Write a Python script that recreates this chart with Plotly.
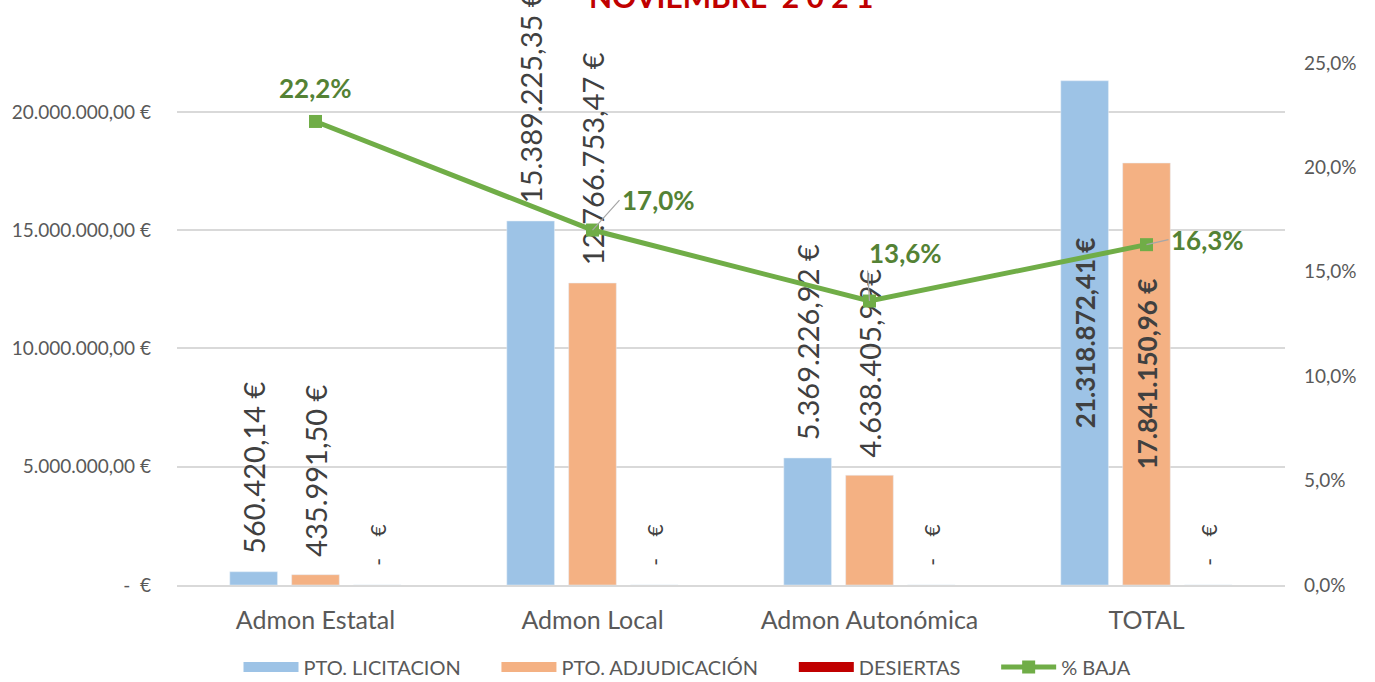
import plotly.graph_objects as go

categories = ["Admon Estatal", "Admon Local", "Admon Autonómica", "TOTAL"]
pto_licitacion = [560420.14, 15389225.35, 5369226.92, 21318872.41]
pto_adjudicacion = [435991.50, 12766753.47, 4638405.99, 17841150.96]
desiertas = [0, 0, 0, 0]
pct_baja = [0.222, 0.170, 0.136, 0.163]

lic_labels = ["560.420,14 €", "15.389.225,35 €", "5.369.226,92 €", "21.318.872,41 €"]
adj_labels = ["435.991,50 €", "12.766.753,47 €", "4.638.405,99€", "17.841.150,96 €"]
des_labels = ["-   €", "-   €", "-   €", "-   €"]
pct_labels = ["22,2%", "17,0%", "13,6%", "16,3%"]

left_ticks = [0, 5e6, 10e6, 15e6, 20e6]
left_ticktext = ["-  €", "5.000.000,00 €", "10.000.000,00 €", "15.000.000,00 €", "20.000.000,00 €"]
right_ticks = [0, 0.05, 0.10, 0.15, 0.20, 0.25]
right_ticktext = ["0,0%", "5,0%", "10,0%", "15,0%", "20,0%", "25,0%"]

FONT = "Lato"
GRAY = "#595959"
LABEL = "#404040"
C_LIC = "#9DC3E6"
C_ADJ = "#F4B183"
C_DES = "#C00000"
C_BAJA = "#70AD47"

NB = "\u00a0"
positions = ["outside", "outside", "outside", "inside"]


def pad(labels):
    return [(NB * 2 + t if p == "outside" else t).replace(" ", NB) for t, p in zip(labels, positions)]


fig = go.Figure()

for name, vals, labels, color in [("PTO. LICITACION", pto_licitacion, lic_labels, C_LIC),
                                  ("PTO. ADJUDICACIÓN", pto_adjudicacion, adj_labels, C_ADJ)]:
    fig.add_trace(go.Bar(
        x=categories, y=vals, name=name, legendgroup=name, showlegend=False,
        marker_color=color,
        text=pad(labels),
        textposition=positions,
        textangle=-90,
        insidetextanchor="middle",
        textfont=dict(family=FONT, size=29, color=LABEL),
        insidetextfont=dict(family=FONT, size=26, color=LABEL, weight="bold"),
        outsidetextfont=dict(family=FONT, size=29, color=LABEL),
        cliponaxis=False,
        constraintext="none",
    ))

fig.add_trace(go.Bar(
    x=categories, y=desiertas, name="DESIERTAS", legendgroup="DESIERTAS", showlegend=False,
    marker_color=C_DES,
    text=[NB * 3 + t.replace("   ", NB * 4) for t in des_labels],
    textposition="outside",
    textangle=-90,
    textfont=dict(family=FONT, size=21, color=LABEL),
    cliponaxis=False,
    constraintext="none",
))

# legend entries drawn as wide colour swatches
for name, color in [("PTO. LICITACION", C_LIC), ("PTO. ADJUDICACIÓN", C_ADJ), ("DESIERTAS", C_DES)]:
    fig.add_trace(go.Scatter(
        x=[None], y=[None], name=name + NB * 6, legendgroup=name, mode="lines",
        line=dict(color=color, width=15),
    ))

fig.add_trace(go.Scatter(
    x=categories, y=pct_baja, name="% BAJA", yaxis="y2",
    mode="lines+markers",
    line=dict(color=C_BAJA, width=5),
    marker=dict(symbol="square", size=13, color=C_BAJA),
    cliponaxis=False,
))

# percentage labels with leader lines
offsets = [(0, 0, 33), (27, -30, 0), (-3, -48, 0), (22, -5, 0)]
for cat, v, lab, (ax, ay, ys) in zip(categories, pct_baja, pct_labels, offsets):
    fig.add_annotation(
        x=cat, y=v, xref="x", yref="y2", text="<b>%s</b>" % lab,
        showarrow=(ax != 0), ax=ax, ay=ay, arrowhead=0, arrowwidth=1.2,
        arrowcolor="#A6A6A6", standoff=0, startstandoff=0, yshift=ys,
        xanchor="center" if ax == 0 else "left", yanchor="middle",
        font=dict(family=FONT, size=26, color="#548235"),
    )

# title (partly cut off at top, as in the reference)
fig.add_annotation(
    x=0.5, y=1.09, xref="paper", yref="paper", text="<b>NOVIEMBRE  2 0 2 1</b>",
    showarrow=False, xanchor="center", yanchor="bottom",
    font=dict(family=FONT, size=30, color=C_DES),
)

fig.update_layout(
    width=1375, height=682,
    margin=dict(l=175, r=90, t=63, b=97),
    paper_bgcolor="white", plot_bgcolor="white",
    barmode="group", bargap=0.33, bargroupgap=0.23,
    font=dict(family=FONT, color=GRAY),
    showlegend=True,
    legend=dict(orientation="h", xref="container", yref="container",
                x=0.5, xanchor="center", y=0.022, yanchor="middle",
                font=dict(family=FONT, size=20, color=GRAY),
                itemwidth=55, traceorder="normal", tracegroupgap=0),
    xaxis=dict(showline=True, linecolor="#D9D9D9", linewidth=1.5,
               tickfont=dict(family=FONT, size=25, color=GRAY),
               ticks="", ticklabelstandoff=12),
    yaxis=dict(range=[0, 22.07e6], tickvals=left_ticks, ticktext=left_ticktext,
               showgrid=True, gridcolor="#D9D9D9", gridwidth=1.5,
               zeroline=False, ticks="", ticklabelstandoff=25,
               tickfont=dict(family=FONT, size=19, color=GRAY)),
    yaxis2=dict(range=[0, 0.25], tickvals=right_ticks, ticktext=right_ticktext,
                overlaying="y", side="right", showgrid=False, zeroline=False,
                ticks="", ticklabelstandoff=18,
                tickfont=dict(family=FONT, size=19, color=GRAY)),
)

fig.write_html("out.html", config={"displayModeBar": False},
               post_script="document.body.style.margin='0px';")
